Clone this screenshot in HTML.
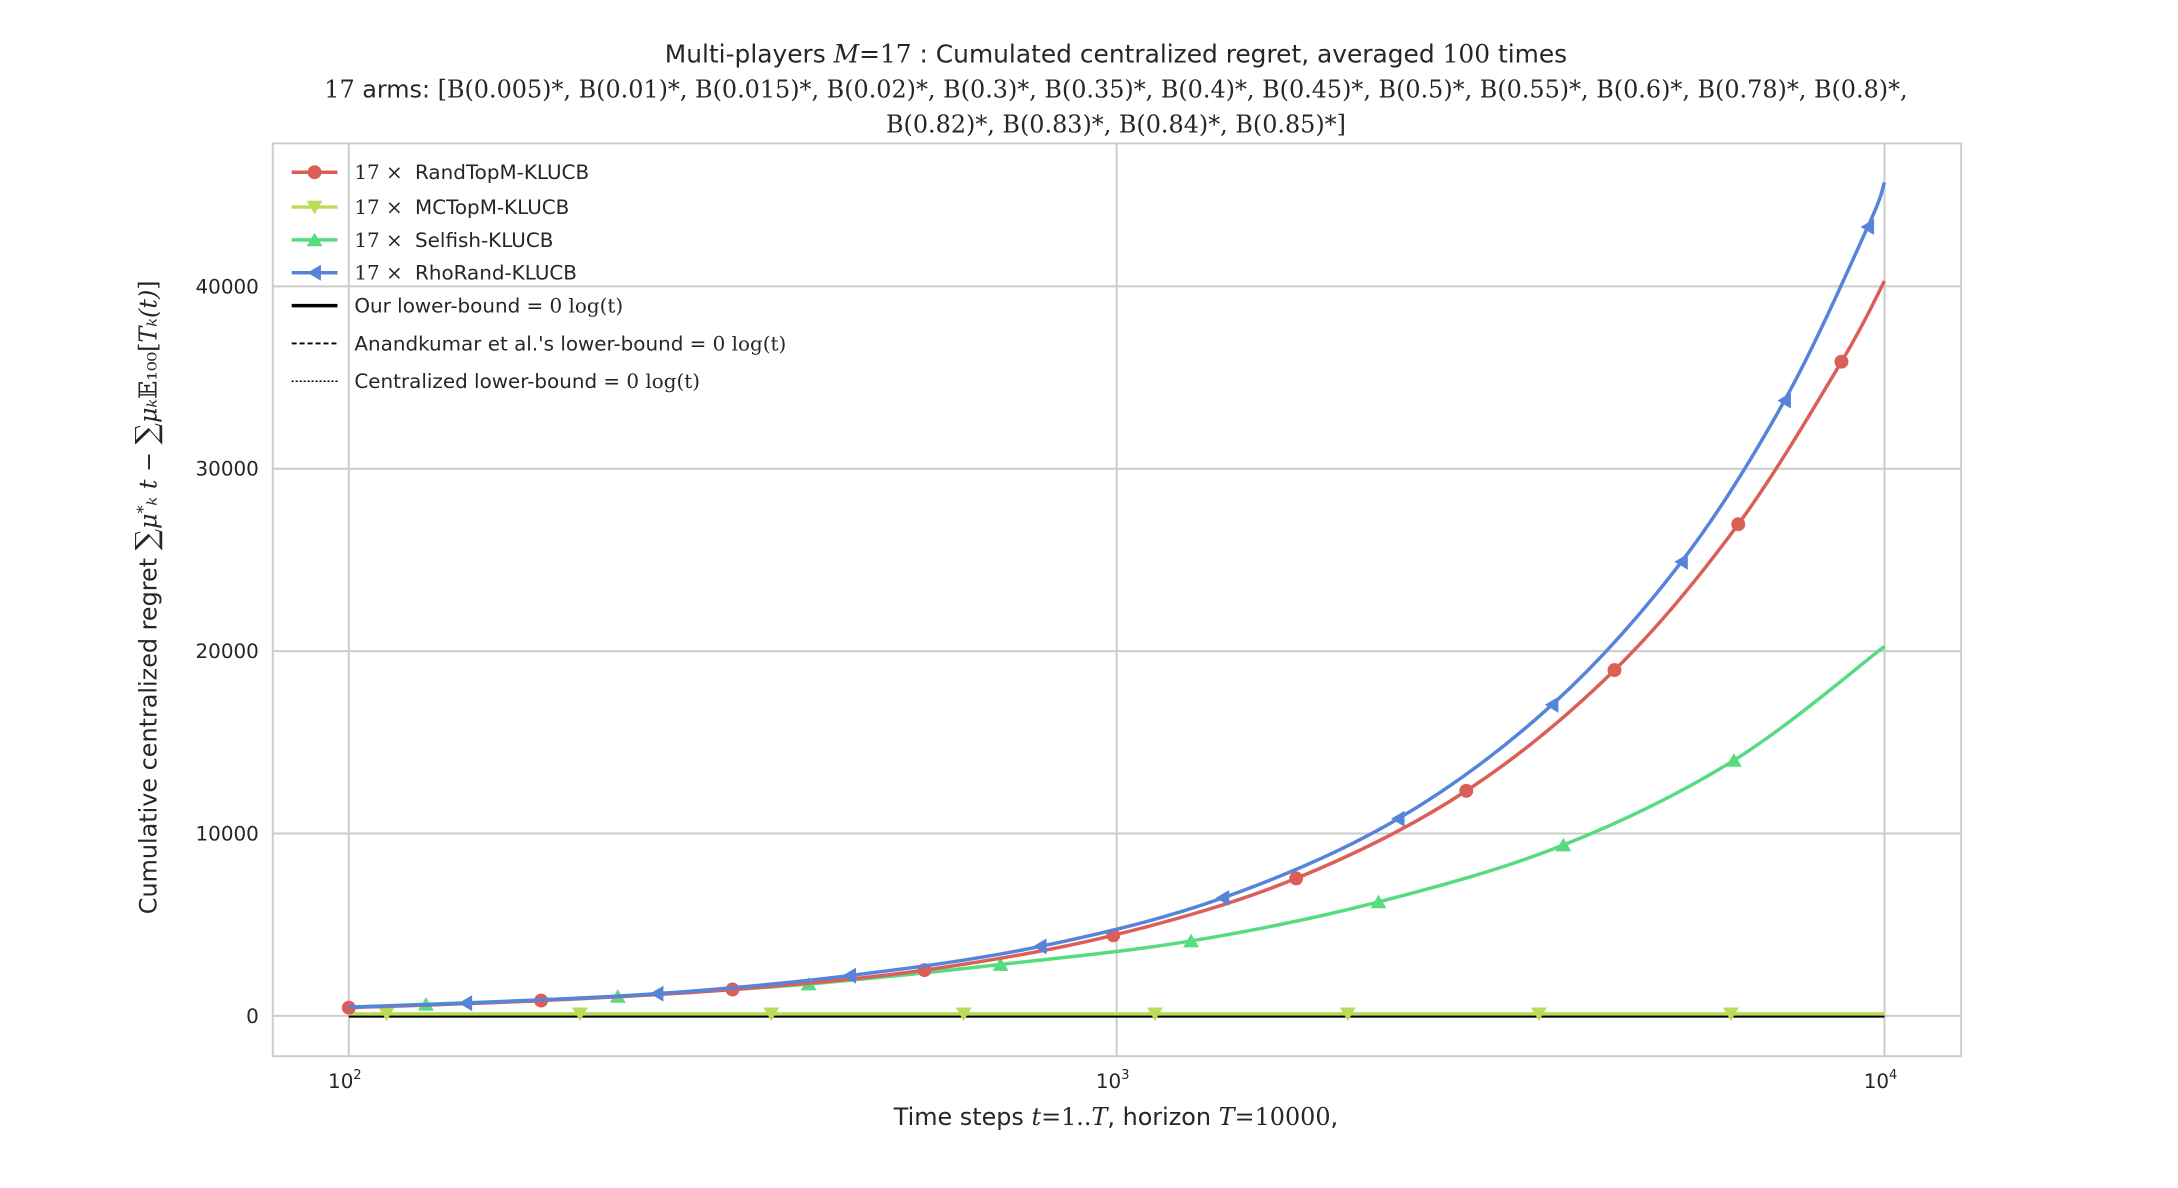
<!DOCTYPE html>
<html><head><meta charset="utf-8">
<style>
body{margin:0;background:#fff;}
svg{display:block;font-family:"DejaVu Sans","Liberation Sans",sans-serif;}
.m{font-family:"DejaVu Serif","Liberation Serif",serif;}
</style></head>
<body>
<svg id="chart" width="2178" height="1188" viewBox="0 0 2178 1188">
<g transform="scale(0.9955)">
<g fill="#262626" text-anchor="middle">
<text x="1121" y="63" font-size="25">Multi-players <tspan class="m" font-style="italic">M</tspan><tspan class="m">=17</tspan> : Cumulated centralized regret, averaged <tspan class="m">100</tspan> times</text>
<text x="1121" y="98" font-size="24"><tspan class="m">17</tspan> arms: <tspan class="m">[B(0.005)*, B(0.01)*, B(0.015)*, B(0.02)*, B(0.3)*, B(0.35)*, B(0.4)*, B(0.45)*, B(0.5)*, B(0.55)*, B(0.6)*, B(0.78)*, B(0.8)*,</tspan></text>
<text x="1121" y="133" font-size="24" class="m">B(0.82)*, B(0.83)*, B(0.84)*, B(0.85)*]</text>
</g>
<g id="grid"></g>
<rect x="274" y="144" width="1696" height="917" fill="none" stroke="#cccccc" stroke-width="2"/>
<g id="ticks" fill="#262626"></g>
<g id="series"></g>
<text x="1121" y="1130" text-anchor="middle" font-size="24" fill="#262626">Time steps <tspan class="m" font-style="italic">t</tspan><tspan class="m">=1..</tspan><tspan class="m" font-style="italic">T</tspan>, horizon <tspan class="m" font-style="italic">T</tspan><tspan class="m">=10000</tspan>,</text>
<text transform="translate(157,600) rotate(-90)" text-anchor="middle" font-size="24" fill="#262626">Cumulative centralized regret <tspan class="m" font-size="30">∑</tspan><tspan class="m" font-style="italic">μ</tspan><tspan class="m" font-size="16" dy="-8">*</tspan><tspan class="m" font-style="italic" dy="8">ₖ t</tspan><tspan class="m"> − </tspan><tspan class="m" font-size="30">∑</tspan><tspan class="m" font-style="italic">μₖ</tspan><tspan class="m">𝔼₁₀₀[</tspan><tspan class="m" font-style="italic">Tₖ(t)</tspan><tspan class="m">]</tspan></text>
<g id="legend"></g>
</g>
</svg>
<script>
const xTicks=[100,1000,10000];
const xTickLabels=["2","3","4"];
const yTicks=[0,10000,20000,30000,40000];
const yTickLabels=["0","10000","20000","30000","40000"];
const seriesNames=["RandTopM-KLUCB","MCTopM-KLUCB","Selfish-KLUCB","RhoRand-KLUCB"];
const redT=[100,178,316,562,990,1713,2853,4450,6450,8790,10000];
const redV=[450,840,1450,2510,4420,7540,12340,18960,26960,35870,40290];
const yelT=[100,112,200,355,632,1122,2000,3548,6310,10000];
const yelV=[110,110,110,110,110,110,110,110,110,110];
const grnT=[100,126,224,397,706,1250,2193,3818,6365,10000];
const grnV=[480,640,1070,1750,2820,4110,6250,9370,14010,20260];
const bluT=[100,142,252,449,795,1375,2326,3690,5440,7410,9510,10000];
const bluV=[480,700,1220,2210,3810,6470,10810,17060,24900,33740,43260,45700];
const redMarkT=[100,178,316,562,990,1713,2853,4450,6450,8790];
const yelMarkT=[112,200,355,632,1122,2000,3548,6310];
const grnMarkT=[126,224,397,706,1250,2193,3818,6365];
const bluMarkT=[142,252,449,795,1375,2326,3690,5440,7410,9510];

const NS="http://www.w3.org/2000/svg";
const X0=350.4,X1=1893,Y0=1020.5,YS=183.2/10000;
const sx=t=>X0+(Math.log10(t)-2)/2*(X1-X0);
const sy=v=>Y0-v*YS;
function mk(tag,attrs,parent){const e=document.createElementNS(NS,tag);for(const k in attrs)e.setAttribute(k,attrs[k]);parent.appendChild(e);return e;}
const grid=document.getElementById('grid'),ticks=document.getElementById('ticks'),series=document.getElementById('series'),legend=document.getElementById('legend');
xTicks.forEach((t,i)=>{
 const l=mk('line',{x1:sx(t),x2:sx(t),y1:144,y2:1061,stroke:'#cccccc','stroke-width':2},grid);
 
 
 const tx=mk('text',{x:sx(t)-4,y:1093,'text-anchor':'middle','font-size':20},ticks);
 
 
 tx.textContent='10';
 const sp=mk('tspan',{'font-size':13,dy:-9},tx);sp.textContent=xTickLabels[i];
});
yTicks.forEach((v,i)=>{
 const l=mk('line',{x1:274,x2:1970,y1:sy(v),y2:sy(v),stroke:'#cccccc','stroke-width':2},grid);
 
 
 const tx=mk('text',{x:260,y:sy(v)+7,'text-anchor':'end','font-size':20},ticks);
 
 
 tx.textContent=yTickLabels[i];
});
function interp(T,V,t){for(let i=0;i<T.length-1;i++){if(t>=T[i]&&t<=T[i+1]){const a=Math.log(T[i]),b=Math.log(T[i+1]),f=(Math.log(t)-a)/(b-a);return V[i]+(V[i+1]-V[i])*f;}}return V[V.length-1];}
function pathFor(T,V){
 const p=T.map((t,i)=>[sx(t),sy(V[i])]);
 let d='M'+p[0][0]+','+p[0][1];
 for(let i=0;i<p.length-1;i++){const a=p[Math.max(0,i-1)],b=p[i],c=p[i+1],e=p[Math.min(p.length-1,i+2)];
  d+=' C'+(b[0]+(c[0]-a[0])/6)+','+(b[1]+(c[1]-a[1])/6)+' '+(c[0]-(e[0]-b[0])/6)+','+(c[1]-(e[1]-b[1])/6)+' '+c[0]+','+c[1];}
 return d;}
function marker(kind,x,y,col,parent){
 const s=8;let e;
 if(kind==='o')e=mk('circle',{cx:x,cy:y,r:7,fill:col},parent);
 else{let pts;
  if(kind==='v')pts=[[x-s,y-s*0.8],[x+s,y-s*0.8],[x,y+s*0.9]];
  else if(kind==='^')pts=[[x-s,y+s*0.8],[x+s,y+s*0.8],[x,y-s*0.9]];
  else pts=[[x+s*0.8,y-s],[x+s*0.8,y+s],[x-s*0.9,y]];
  e=mk('polygon',{points:pts.map(q=>q.join(',')).join(' '),fill:col},parent);}
 return e;}
const lb=mk('line',{x1:sx(100),x2:sx(10000),y1:sy(0),y2:sy(0),stroke:'#000','stroke-width':3.5},series);


const defs=[[redT,redV,redMarkT,'#db5f57','o','randtopm'],[yelT,yelV,yelMarkT,'#b9db57','v','mctopm'],[grnT,grnV,grnMarkT,'#57db80','^','selfish'],[bluT,bluV,bluMarkT,'#5784db','<','rhorand']];
const order=[1,2,0,3];
order.forEach(k=>{const [T,V,M,c,m,n]=defs[k];
 const g=mk('g',{},series);
 
 
 const p=mk('path',{d:pathFor(T,V),fill:'none',stroke:c,'stroke-width':3.5},g);
 
 
 M.forEach(t=>{const e=marker(m,sx(t),sy(interp(T,V,t)),c,g);
  
  });
});
const rows=[173,208,241,274];
defs.forEach((d,i)=>{const y=rows[i];
 const g=mk('g',{},legend);
 
 
 mk('line',{x1:293,x2:339,y1:y,y2:y,stroke:d[3],'stroke-width':3.5},g);
 marker(d[4],316,y,d[3],g);
 const tx=mk('text',{x:356,y:y+7,'font-size':20,fill:'#262626'},g);
 const a=mk('tspan',{class:'m'},tx);a.textContent='17 × ';
 const b=mk('tspan',{dx:6},tx);b.textContent=seriesNames[i];
});
const lbRows=[[307,'Our lower-bound = ','none',3.5],[345,"Anandkumar et al.'s lower-bound = ",'5,3',1.8],[383,'Centralized lower-bound = ','2,2',1.5]];
lbRows.forEach(r=>{
 const g=mk('g',{},legend);
 
 
 mk('line',{x1:293,x2:339,y1:r[0],y2:r[0],stroke:'#000','stroke-width':r[3],'stroke-dasharray':r[2]},g);
 const tx=mk('text',{x:356,y:r[0]+7,'font-size':20,fill:'#262626'},g);
 tx.textContent=r[1];
 const a=mk('tspan',{class:'m'},tx);a.textContent='0 log(t)';
});
</script>
</body></html>
